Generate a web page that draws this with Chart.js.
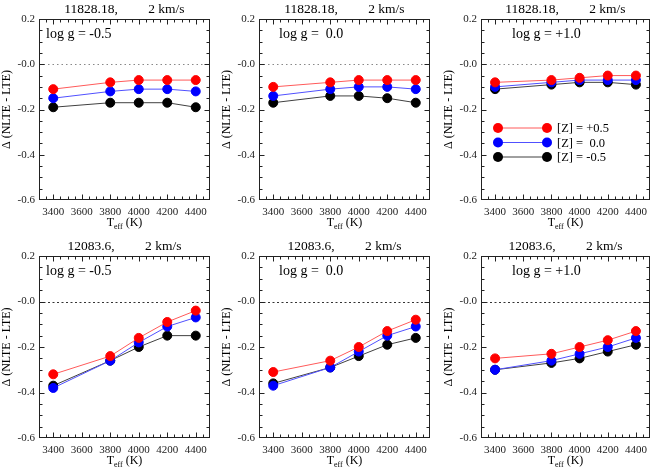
<!DOCTYPE html>
<html lang="en">
<head>
    <meta charset="UTF-8">
    <title>NLTE - LTE corrections</title>
    <script src="https://cdn.jsdelivr.net/npm/chart.js"></script>
    <style>
        body {
            margin: 0;
            background-color: #fff;
            width: 664px;
            height: 475px;
            position: relative;
            overflow: hidden;
        }
        .panel {
            position: absolute;
        }
    </style>
</head>
<body>
    <script>
        // data
        const temps = [3400, 3800, 4000, 4200, 4400];
        const xTicks = [3400, 3600, 3800, 4000, 4200, 4400];
        const yTicks = [-0.6, -0.4, -0.2, 0.0, 0.2];
        const yTickLabels = ['-0.6', '-0.4', '-0.2', '-0.0', '0.2'];

        const titles = ['11828.18,         2 km/s', '12083.6,         2 km/s'];
        const loggLabels = ['log g = -0.5', 'log g =  0.0', 'log g = +1.0'];
        const zLabels = ['[Z] = +0.5', '[Z] =  0.0', '[Z] = -0.5'];

        // 11828.18
        const w11828_gm05_zp = [-0.11, -0.08, -0.07, -0.07, -0.07];
        const w11828_gm05_z0 = [-0.15, -0.12, -0.11, -0.11, -0.12];
        const w11828_gm05_zm = [-0.19, -0.17, -0.17, -0.17, -0.19];

        const w11828_g00_zp = [-0.10, -0.08, -0.07, -0.07, -0.07];
        const w11828_g00_z0 = [-0.14, -0.11, -0.10, -0.10, -0.11];
        const w11828_g00_zm = [-0.17, -0.14, -0.14, -0.15, -0.17];

        const w11828_gp10_zp = [-0.08, -0.07, -0.06, -0.05, -0.05];
        const w11828_gp10_z0 = [-0.10, -0.08, -0.07, -0.07, -0.07];
        const w11828_gp10_zm = [-0.11, -0.09, -0.08, -0.08, -0.09];

        // 12083.6
        const w12083_gm05_zp = [-0.32, -0.24, -0.16, -0.09, -0.04];
        const w12083_gm05_z0 = [-0.38, -0.26, -0.18, -0.11, -0.07];
        const w12083_gm05_zm = [-0.37, -0.26, -0.20, -0.15, -0.15];

        const w12083_g00_zp = [-0.31, -0.26, -0.20, -0.13, -0.08];
        const w12083_g00_z0 = [-0.37, -0.29, -0.22, -0.15, -0.11];
        const w12083_g00_zm = [-0.36, -0.29, -0.24, -0.19, -0.16];

        const w12083_gp10_zp = [-0.25, -0.23, -0.20, -0.17, -0.13];
        const w12083_gp10_z0 = [-0.30, -0.26, -0.23, -0.20, -0.16];
        const w12083_gp10_zm = [-0.30, -0.27, -0.25, -0.22, -0.19];

        const pointColors = ['#ff0000', '#0000ff', '#000000'];
        const lineColors = ['#ff5a5a', '#5050ff', '#404040'];
        const serif = "'Liberation Serif', 'DejaVu Serif', serif";

        const panels = [
            { row: 0, col: 0, title: titles[0], logg: loggLabels[0], series: [w11828_gm05_zp, w11828_gm05_z0, w11828_gm05_zm] },
            { row: 0, col: 1, title: titles[0], logg: loggLabels[1], series: [w11828_g00_zp, w11828_g00_z0, w11828_g00_zm] },
            { row: 0, col: 2, title: titles[0], logg: loggLabels[2], series: [w11828_gp10_zp, w11828_gp10_z0, w11828_gp10_zm], legend: true },
            { row: 1, col: 0, title: titles[1], logg: loggLabels[0], series: [w12083_gm05_zp, w12083_gm05_z0, w12083_gm05_zm] },
            { row: 1, col: 1, title: titles[1], logg: loggLabels[1], series: [w12083_g00_zp, w12083_g00_z0, w12083_g00_zm] },
            { row: 1, col: 2, title: titles[1], logg: loggLabels[2], series: [w12083_gp10_zp, w12083_gp10_z0, w12083_gp10_zm] }
        ];

        // layout
        const colLeft = [0, 220, 442];
        const plotWidth = [171, 171, 169];
        const rowTop = [0, 235];
        const rowHeight = [235, 240];
        const padTop = [19, 21];
        const xAxisHeight = [35, 37];
        const yAxisWidth = 39;
        const loggOffset = [7, 20, 31];
        const zeroLine = [{ color: '#888', dash: [1.5, 3] }, { color: '#333', dash: [2, 2.5] }];

        // box, inward ticks, zero line and all the text
        const framePlugin = {
            id: 'frame',
            beforeDatasetsDraw(chart, args, opts) {
                const { ctx, chartArea: a, scales: { y } } = chart;
                const zl = zeroLine[opts.panel.row];
                const y0 = Math.round(y.getPixelForValue(0)) + 0.5;
                ctx.save();
                ctx.strokeStyle = zl.color;
                ctx.lineWidth = 1;
                ctx.setLineDash(zl.dash);
                ctx.beginPath();
                ctx.moveTo(a.left, y0);
                ctx.lineTo(a.right, y0);
                ctx.stroke();
                ctx.restore();
            },
            afterDatasetsDraw(chart) {
                const { ctx, chartArea: a, scales: { x, y } } = chart;
                const L = a.left + 0.5, R = a.right - 0.5, T = a.top + 0.5, B = a.bottom - 0.5;
                ctx.save();
                ctx.strokeStyle = '#222';
                ctx.lineWidth = 1;
                ctx.strokeRect(L, T, R - L, B - T);
                ctx.beginPath();
                for (let v = 3350; v < 4500; v += 50) {
                    const px = Math.round(x.getPixelForValue(v)) + 0.5;
                    const len = v % 200 === 0 ? 5 : 3;
                    ctx.moveTo(px, B); ctx.lineTo(px, B - len);
                    ctx.moveTo(px, T); ctx.lineTo(px, T + len);
                }
                for (let k = -11; k <= 3; k++) {
                    const py = Math.round(y.getPixelForValue(k * 0.05)) + 0.5;
                    const len = k % 4 === 0 ? 5 : 3;
                    ctx.moveTo(L, py); ctx.lineTo(L + len, py);
                    ctx.moveTo(R, py); ctx.lineTo(R - len, py);
                }
                ctx.stroke();
                ctx.restore();
            },
            afterDraw(chart, args, opts) {
                const { ctx, chartArea: a, scales: { y } } = chart;
                const p = opts.panel;
                const cx = (a.left + a.right) / 2;
                ctx.save();

                // y tick labels at the y scale's pixel positions
                ctx.font = '11px ' + serif;
                ctx.fillStyle = '#222';
                ctx.textAlign = 'right';
                ctx.textBaseline = 'middle';
                yTicks.forEach((v, i) => {
                    ctx.fillText(yTickLabels[i], a.left - 4, y.getPixelForValue(v));
                });

                ctx.fillStyle = '#000';

                // title
                ctx.font = '13.5px ' + serif;
                ctx.textAlign = 'center';
                ctx.fillText(p.title, cx, a.top - 10);

                // log g
                ctx.font = '14px ' + serif;
                ctx.textAlign = 'left';
                ctx.fillText(p.logg, a.left + loggOffset[p.col], a.top + 15);

                // y title
                ctx.font = '12px ' + serif;
                ctx.save();
                ctx.translate(7, (a.top + a.bottom) / 2);
                ctx.rotate(-Math.PI / 2);
                ctx.textAlign = 'center';
                ctx.fillText('\u0394 (NLTE - LTE)', 0, 0);
                ctx.restore();

                // x title with subscript
                const ty = a.bottom + 23;
                ctx.font = '12px ' + serif;
                const wT = ctx.measureText('T').width;
                const wK = ctx.measureText(' (K)').width;
                ctx.font = '8px ' + serif;
                const wE = ctx.measureText('eff').width;
                const tx = cx - (wT + wE + wK) / 2;
                ctx.font = '12px ' + serif;
                ctx.fillText('T', tx, ty);
                ctx.font = '8px ' + serif;
                ctx.fillText('eff', tx + wT, ty + 4);
                ctx.font = '12px ' + serif;
                ctx.fillText(' (K)', tx + wT + wE, ty);

                // legend
                if (p.legend) {
                    const x1 = a.left + 17, x2 = a.left + 66;
                    ctx.font = '12.5px ' + serif;
                    zLabels.forEach((lab, i) => {
                        const ly = a.top + 109 + i * 14.5;
                        ctx.strokeStyle = lineColors[i];
                        ctx.lineWidth = 1;
                        ctx.beginPath();
                        ctx.moveTo(x1, ly);
                        ctx.lineTo(x2, ly);
                        ctx.stroke();
                        ctx.fillStyle = pointColors[i];
                        [x1, x2].forEach(px => {
                            ctx.beginPath();
                            ctx.arc(px, ly, 5, 0, Math.PI * 2);
                            ctx.fill();
                        });
                        ctx.fillStyle = '#000';
                        ctx.fillText(lab, a.left + 76, ly + 1);
                    });
                }
                ctx.restore();
            }
        };

        panels.forEach(p => {
            const div = document.createElement('div');
            div.className = 'panel';
            const w = 220;
            const h = rowHeight[p.row];
            div.style.left = colLeft[p.col] + 'px';
            div.style.top = rowTop[p.row] + 'px';
            const canvas = document.createElement('canvas');
            canvas.width = w;
            canvas.height = h;
            div.appendChild(canvas);
            document.body.appendChild(div);

            const datasets = p.series.map((vals, i) => ({
                label: zLabels[i],
                data: temps.map((t, j) => ({ x: t, y: vals[j] })),
                borderColor: lineColors[i],
                backgroundColor: pointColors[i],
                pointBackgroundColor: pointColors[i],
                pointBorderColor: pointColors[i],
                borderWidth: 1,
                pointRadius: 4.5,
                pointBorderWidth: 1,
                tension: 0,
                clip: false
            }));

            new Chart(canvas.getContext('2d'), {
                type: 'line',
                data: { datasets },
                options: {
                    responsive: false,
                    animation: false,
                    devicePixelRatio: 1,
                    layout: {
                        padding: {
                            top: padTop[p.row],
                            left: 0,
                            right: w - yAxisWidth - plotWidth[p.col],
                            bottom: 0
                        }
                    },
                    plugins: {
                        legend: { display: false },
                        tooltip: { enabled: false },
                        frame: { panel: p }
                    },
                    scales: {
                        x: {
                            type: 'linear',
                            min: 3300,
                            max: 4500,
                            grid: { display: false, drawTicks: false },
                            border: { display: false },
                            afterBuildTicks: axis => { axis.ticks = xTicks.map(v => ({ value: v })); },
                            afterFit: axis => { axis.height = xAxisHeight[p.row]; },
                            ticks: {
                                padding: 6,
                                maxRotation: 0,
                                autoSkip: false,
                                color: '#222',
                                font: { family: serif, size: 11 },
                                callback: v => String(v)
                            }
                        },
                        y: {
                            min: -0.6,
                            max: 0.2,
                            grid: { display: false, drawTicks: false },
                            border: { display: false },
                            afterBuildTicks: axis => { axis.ticks = yTicks.map(v => ({ value: v })); },
                            afterFit: axis => { axis.width = yAxisWidth; },
                            ticks: {
                                padding: 4,
                                autoSkip: false,
                                color: 'rgba(0,0,0,0)',
                                font: { family: serif, size: 11 },
                                callback: v => yTickLabels[yTicks.indexOf(v)]
                            }
                        }
                    }
                },
                plugins: [framePlugin]
            });
        });
    </script>
</body>
</html>
